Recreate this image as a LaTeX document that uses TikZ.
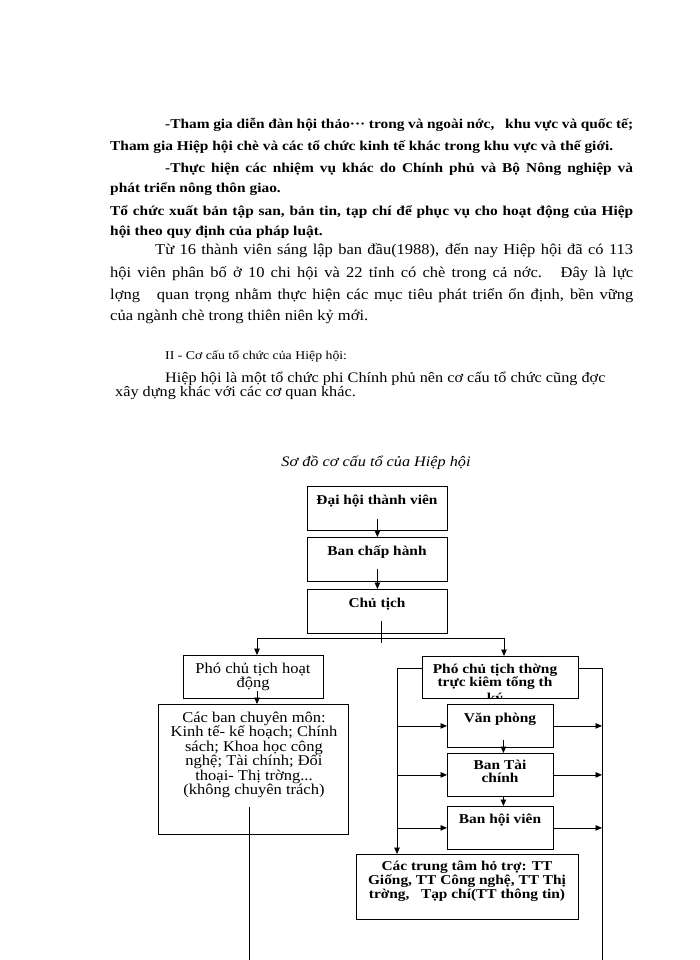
\documentclass[tikz,border=0pt]{standalone}
\usepackage{graphicx}
\usepackage{fontspec}
\setmainfont{Liberation Serif}
\usetikzlibrary{arrows.meta,calc}
\newcommand\fs[1]{\fontsize{#1}{#1}\selectfont}
\newcommand\bx[1]{\scalebox{1.14}[1]{#1}}
\newcommand\rx[1]{\scalebox{1.10}[1]{#1}}
\newcommand\tlines[4]{\parbox[t]{#1pt}{\fontsize{#2}{#3}\selectfont\centering #4\par}}
\tikzset{
  box/.style={draw=black, line width=0.8pt, inner sep=0pt, anchor=north west},
  conn/.style={draw=black, line width=0.8pt},
  arr/.style={conn, -{Triangle[length=6.5pt,width=5.5pt]}},
  txt/.style={anchor=base west, inner sep=0pt},
  ctxt/.style={anchor=base, inner sep=0pt},
}
\begin{document}
\begin{tikzpicture}[x=1pt,y=-1pt]
\useasboundingbox[fill=white] (0,0) rectangle (700,960);

% ---- bold paragraph ----
\node[txt] (l1) at (165,129) {\bfseries\fs{13.5}\bx{\makebox[410.5pt][s]{-Tham gia diễn đàn hội thảo··· trong và ngoài nớc,\ \ \ khu vực và quốc tế;}}};
\node[txt] (l2) at (110,151) {\bfseries\fs{13.5}\bx{Tham gia Hiệp hội chè và các tổ chức kinh tế khác trong khu vực và thế giới.}};
\node[txt] (l3) at (165,172) {\bfseries\fs{13.5}\bx{\makebox[410.5pt][s]{-Thực hiện các nhiệm vụ khác do Chính phủ và Bộ Nông nghiệp và}}};
\node[txt] (l4) at (110,193) {\bfseries\fs{13.5}\bx{phát triển nông thôn giao.}};
\node[txt] (l5) at (110,215) {\bfseries\fs{13.5}\bx{\makebox[458.8pt][s]{Tổ chức xuất bản tập san, bản tin, tạp chí để phục vụ cho hoạt động của Hiệp}}};
\node[txt] (l6) at (110,235) {\bfseries\fs{13.5}\bx{hội theo quy định của pháp luật.}};

% ---- regular paragraph ----
\node[txt] (l7) at (155,254) {\fs{15}\rx{\makebox[434.5pt][s]{Từ 16 thành viên sáng lập ban đầu(1988), đến nay Hiệp hội đã có 113}}};
\node[txt] (l8) at (110,277) {\fs{15}\rx{\makebox[475.5pt][s]{hội viên phân bố ở 10 chi hội và 22 tỉnh có chè trong cả nớc.\ \ \ Đây là lực}}};
\node[txt] (l9) at (110,299) {\fs{15}\rx{\makebox[475.5pt][s]{lợng\ \ \ quan trọng nhằm thực hiện các mục tiêu phát triển ổn định, bền vững}}};
\node[txt] (l10) at (110,320) {\fs{15}\rx{của ngành chè trong thiên niên kỷ mới.}};

% ---- section ----
\node[txt] (s1) at (165,359) {\fs{12}\scalebox{1.15}[1]{II - Cơ cấu tổ chức của Hiệp hội:}};
\node[txt] (s2) at (165,382) {\fs{14.5}\scalebox{1.12}[1]{Hiệp hội là một tổ chức phi Chính phủ nên cơ cấu tổ chức cũng đợc}};
\node[txt] (s3) at (115,396) {\fs{14.5}\scalebox{1.12}[1]{xây dựng khác với các cơ quan khác.}};

% ---- diagram ----
\node[ctxt] (title) at (376,466) {\itshape\fs{14.5}\scalebox{1.12}[1]{Sơ đồ cơ cấu tổ của Hiệp hội}};

\node[box, minimum width=140pt, minimum height=44pt] (dh) at (307,486) {};
\node[box, minimum width=140pt, minimum height=44pt] (bch) at (307,537) {};
\node[box, minimum width=140pt, minimum height=44pt] (ct) at (307,589) {};
\node[box, minimum width=140pt, minimum height=43pt] (pa) at (183,655) {};
\node[box, minimum width=190pt, minimum height=130pt] (cb) at (158,704) {};
\node[box, minimum width=156pt, minimum height=42pt] (pt) at (422,656) {};
\node[box, minimum width=106pt, minimum height=43pt] (vp) at (447,704) {};
\node[box, minimum width=106pt, minimum height=43pt] (tc) at (447,753) {};
\node[box, minimum width=106pt, minimum height=43pt] (hv) at (447,806) {};
\node[box, minimum width=222pt, minimum height=65pt] (tt) at (356,854) {};

% box texts
\node[ctxt] (dht) at (377,504) {\bfseries\fs{13.5}\bx{Đại hội thành viên}};
\node[ctxt] (bcht) at (377,555) {\bfseries\fs{13.5}\bx{Ban chấp hành}};
\node[ctxt] (ctt) at (377,607) {\bfseries\fs{13.5}\bx{Chủ tịch}};
\node[ctxt] (pat) at (253,673) {\rx{\tlines{130}{15}{14}{Phó chủ tịch hoạt\\động}}};
\node[ctxt] (cbt) at (254,722) {\rx{\tlines{175}{15}{14.5}{Các ban chuyên môn:\\Kinh tế- kế hoạch; Chính\\sách; Khoa học công\\nghệ; Tài chính; Đối\\thoại- Thị trờng...\\(không chuyên trách)}}};
\node[ctxt] (ptt) at (495,673) {\bx{\tlines{140}{13.5}{13.5}{\bfseries Phó chủ tịch thờng\\trực kiêm tổng th}}};
\begin{scope}
  \clip ($(pt.north west)+(1,1)$) rectangle ($(pt.south east)+(-1,-1.5)$);
  \node[ctxt] (ptk) at (495,702) {\bfseries\fs{13.5}\bx{ký}};
\end{scope}
\node[ctxt] (vpt) at (500,722) {\bfseries\fs{13.5}\bx{Văn phòng}};
\node[ctxt] (tct) at (500,769) {\bx{\tlines{90}{13.5}{13.5}{\bfseries Ban Tài\\chính}}};
\node[ctxt] (hvt) at (500,823) {\bfseries\fs{13.5}\bx{Ban hội viên}};
\node[ctxt] (ttt) at (467,870) {\bx{\tlines{190}{13.5}{14}{\bfseries Các trung tâm hỏ trợ: TT\\Giống, TT Công nghệ, TT Thị\\trờng,\ \ \ Tạp chí(TT thông tin)}}};

% connectors
\draw[arr] ($(dh.south)+(0,-12)$) -- (dh.south |- bch.north);
\draw[arr] ($(bch.south)+(0,-13)$) -- (bch.south |- ct.north);
\coordinate (ctb) at ($(ct.south)+(4,0)$);
\draw[conn] ($(ctb)+(0,-13)$) -- ($(ctb)+(0,9)$);
\coordinate (hL) at (257,638);
\coordinate (hR) at (504,638);
\draw[conn] (hL) -- (hR);
\draw[arr] (hL) -- (hL |- pa.north);
\draw[arr] (hR) -- (hR |- pt.north);
\draw[arr] ($(hL |- pa.south)+(0,-8)$) -- (hL |- cb.north);
\coordinate (cbend) at (249,960);
\draw[conn] (cbend |- cb.south) ++(0,-28) -- (cbend);

\coordinate (lb) at (397,668);
\coordinate (rb) at (602,668);
\coordinate (rbend) at (602,960);
\draw[arr] (pt.west |- lb) -- (lb) -- (lb |- tt.north);
\draw[arr] (lb |- vp.west) -- (vp.west);
\draw[arr] (lb |- tc.west) -- (tc.west);
\draw[arr] (lb |- hv.west) -- (hv.west);
\draw[conn] (pt.east |- rb) -- (rb) -- (rbend);
\draw[arr] (vp.east) -- (vp.east -| rb);
\draw[arr] (tc.east) -- (tc.east -| rb);
\draw[arr] (hv.east) -- (hv.east -| rb);
\draw[arr] ($(vp.south)+(3,-8)$) -- ($(tc.north)+(3,0)$);
\draw[arr] ($(tc.south)+(3,0)$) -- ($(hv.north)+(3,0)$);
\end{tikzpicture}
\end{document}
